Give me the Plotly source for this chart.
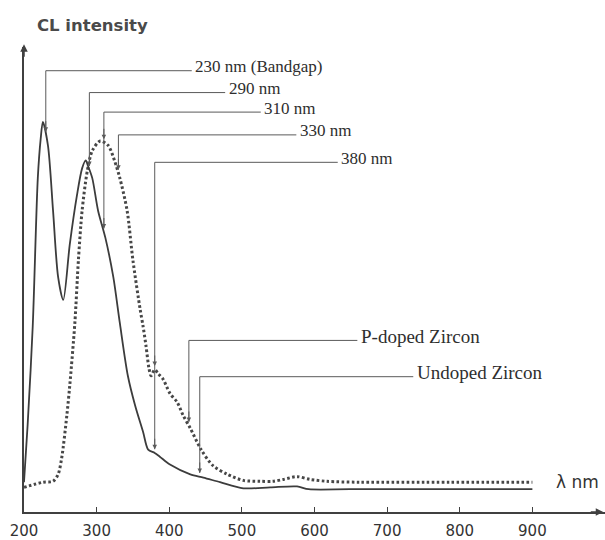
import numpy as np
import plotly.graph_objects as go

# Cathodoluminescence spectra (arbitrary intensity units)
wl_undoped = [200, 205, 212, 219, 223, 226, 233, 240, 247, 254, 263, 273, 280, 285, 288,
              294, 302, 312, 323, 332, 343, 353, 364, 371, 380, 387, 401, 429, 447, 470,
              502, 539, 576, 592, 649, 787, 900]
int_undoped = [6.4, 18.7, 39.9, 71.8, 80.3, 83.9, 78.8, 64.8, 50.5, 45.6, 57.5, 68.2, 73.9,
               75.6, 74.5, 71.8, 64.8, 59.0, 50.5, 40.6, 29.3, 22.9, 17.2, 13.4, 12.7, 11.9,
               10.2, 8.1, 7.4, 6.4, 5.1, 5.3, 5.5, 4.9, 4.9, 4.9, 4.9]

wl_pdoped = [200, 226, 240, 247, 252, 259, 263, 270, 275, 280, 287, 294, 305, 316, 325, 332,
             342, 350, 360, 364, 368, 372, 375, 380, 385, 391, 401, 411, 419, 429, 444, 460,
             480, 502, 525, 543, 557, 576, 594, 617, 663, 787, 900]
int_pdoped = [5.3, 6.4, 6.6, 8.1, 11.7, 20.8, 27.2, 40.6, 54.4, 64.8, 73.2, 77.7, 79.8, 78.8,
              75.4, 71.8, 64.8, 54.1, 43.5, 39.9, 35.7, 31.0, 29.3, 30.6, 29.7, 28.7, 25.5,
              23.6, 20.8, 18.0, 13.4, 10.0, 8.1, 6.8, 6.6, 6.6, 7.0, 7.6, 7.0, 6.6, 6.4, 6.4,
              6.4]

tick_vals = [200, 300, 400, 500, 600, 700, 800, 900]

# Emission bands marked on the spectra
band_wl = [230, 290, 310, 330, 380]
band_labels = ["230 nm (Bandgap)", "290 nm", "310 nm", "330 nm", "380 nm"]
series_labels = ["P-doped Zircon", "Undoped Zircon"]

INK = "#404040"
LEADER = "#5a5a5a"
SERIF = "Liberation Serif, Times New Roman, serif"
SANS = "DejaVu Sans, sans-serif"

fig = go.Figure()
fig.add_trace(go.Scatter(x=wl_pdoped, y=int_pdoped, mode="lines",
                         line=dict(color="#474747", width=3, dash="2.6px,2.4px",
                                   shape="spline", smoothing=0.8),
                         name=series_labels[0], showlegend=False, hoverinfo="skip"))
fig.add_trace(go.Scatter(x=wl_undoped, y=int_undoped, mode="lines",
                         line=dict(color="#3c3c3c", width=1.8, shape="spline", smoothing=0.8),
                         name=series_labels[1], showlegend=False, hoverinfo="skip"))


def on_curve(wls, vals, x):
    return float(np.interp(x, wls, vals))


# leader geometry: (x of vertical, y of horizontal, x where horizontal ends, list of tips)
gap = 0.8
leaders = [
    (band_wl[0], 94.9, 431, [on_curve(wl_undoped, int_undoped, band_wl[0]) + gap]),
    (band_wl[1], 90.2, 477, [on_curve(wl_undoped, int_undoped, band_wl[1]) + gap]),
    (band_wl[2], 86.0, 526, [on_curve(wl_pdoped, int_pdoped, band_wl[2]) + gap,
                             on_curve(wl_undoped, int_undoped, band_wl[2]) + gap]),
    (band_wl[3], 81.1, 575, [on_curve(wl_pdoped, int_pdoped, band_wl[3]) + gap]),
    (band_wl[4], 75.2, 632, [on_curve(wl_pdoped, int_pdoped, band_wl[4]) + gap,
                             on_curve(wl_undoped, int_undoped, band_wl[4]) + gap]),
    (427, 36.9, 659, [on_curve(wl_pdoped, int_pdoped, 427) + gap]),
    (442, 29.1, 736, [on_curve(wl_undoped, int_undoped, 442) + gap]),
]
labels = band_labels + series_labels
label_sizes = [17] * len(band_labels) + [19] * len(series_labels)

shapes = []
annotations = []
for (xv, yh, xend, tips), text, fs in zip(leaders, labels, label_sizes):
    shapes.append(dict(type="line", xref="x", yref="y", x0=xv, x1=xend, y0=yh, y1=yh,
                       line=dict(color=LEADER, width=1)))
    shapes.append(dict(type="line", xref="x", yref="y", x0=xv, x1=xv, y0=yh, y1=min(tips),
                       line=dict(color=LEADER, width=1)))
    for t in tips:
        annotations.append(dict(x=xv, y=t, xref="x", yref="y", ax=0, ay=-12,
                                text="", showarrow=True, arrowhead=2, arrowsize=0.9,
                                arrowwidth=1, arrowcolor=LEADER, standoff=0))
    annotations.append(dict(x=xend + 2, y=yh, xref="x", yref="y", text=text,
                            showarrow=False, xanchor="left", yanchor="middle", yshift=4,
                            font=dict(family=SERIF, size=fs, color="#2e2e2e")))

# axis arrowheads
annotations.append(dict(x=0.997, y=0, xref="paper", yref="paper", ax=-14, ay=0,
                        text="", showarrow=True, arrowhead=2, arrowsize=1,
                        arrowwidth=1.5, arrowcolor=INK, standoff=0))
annotations.append(dict(x=0, y=1.006, xref="paper", yref="paper", ax=0, ay=14,
                        text="", showarrow=True, arrowhead=2, arrowsize=1,
                        arrowwidth=1.5, arrowcolor=INK, standoff=0))

# axis titles
annotations.append(dict(x=0.019, y=1.047, xref="paper", yref="paper", text="<b>CL intensity</b>",
                        showarrow=False, xanchor="left", yanchor="middle",
                        font=dict(family=SANS, size=16.5, color="#4a4a4a")))
annotations.append(dict(x=0.912, y=0.064, xref="paper", yref="paper", text="λ nm",
                        showarrow=False, xanchor="left", yanchor="middle",
                        font=dict(family=SANS, size=17, color="#333333")))

fig.update_layout(
    width=605, height=540, autosize=False,
    margin=dict(l=24, r=0, t=47, b=22),
    paper_bgcolor="white", plot_bgcolor="white",
    shapes=shapes, annotations=annotations,
    xaxis=dict(range=[200, 1000], tickvals=tick_vals, ticks="inside", ticklen=5,
               tickcolor=INK, tickwidth=1.2, showline=True, linecolor=INK, linewidth=1.5,
               showgrid=False, zeroline=False, ticklabelstandoff=4,
               tickfont=dict(family=SANS, size=15, color="#333333")),
    yaxis=dict(range=[0, 100], showticklabels=False, ticks="", showline=True,
               linecolor=INK, linewidth=1.5, showgrid=False, zeroline=False),
)

fig.write_html("out.html")
